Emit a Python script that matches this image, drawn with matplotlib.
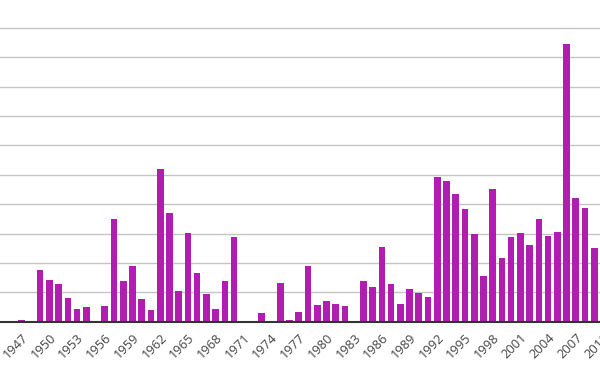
import matplotlib.pyplot as plt
import numpy as np

plt.rcParams['font.family'] = ['Open Sans', 'DejaVu Sans']

# yearly values (grid step = 10)
years = list(range(1947, 2010))
values = [0.6, 0, 17.5, 14.3, 12.7, 8.1, 4.4, 4.9, 0, 5.3,
          34.9, 14.0, 19.1, 7.6, 4.1, 52.1, 36.9, 10.4, 30.1, 16.7,
          9.3, 4.4, 14.0, 28.9, 0, 0, 3.0, 0, 13.2, 0.6,
          3.3, 19.1, 5.7, 6.9, 6.1, 5.3, 0, 14.0, 11.7, 25.4,
          12.8, 6.1, 11.2, 9.7, 8.4, 49.4, 47.8, 43.6, 38.4, 29.8,
          15.6, 45.1, 21.6, 28.9, 30.1, 26.2, 34.9, 29.3, 30.5, 94.7,
          42.2, 38.8, 25.0]
tick_years = list(range(1944, 2014, 3))

bar_color = '#b11db1'

fig = plt.figure(figsize=(6, 3.72), dpi=100)
# the reference is a crop of a wider chart, so the axes run past the figure edges
ax = fig.add_axes([-40 / 600, 50.3 / 372, 680 / 600, 321.7 / 372])

ax.bar(years, values, width=0.72, color=bar_color, zorder=3)

ax.set_xlim(1947 - 61.7 / 9.235, 1947 + 618.3 / 9.235)
ax.set_ylim(0, 321.7 / 2.937)

ax.set_yticks(np.arange(10, 101, 10))
ax.yaxis.grid(True, color='#c4c4c4', linewidth=1.0, zorder=0)
ax.tick_params(axis='y', length=0, labelleft=False)

ax.set_xticks(tick_years)
ax.set_xticklabels([str(y) for y in tick_years], rotation=45, ha='right', va='top',
                   rotation_mode='anchor', fontsize=9.3, color='#444444')
ax.tick_params(axis='x', length=0, pad=7)

for side in ['top', 'right', 'left']:
    ax.spines[side].set_visible(False)
ax.spines['bottom'].set_color('#333333')
ax.spines['bottom'].set_linewidth(1.5)
ax.spines['bottom'].set_zorder(4)

fig.savefig('out.png', dpi=100)
